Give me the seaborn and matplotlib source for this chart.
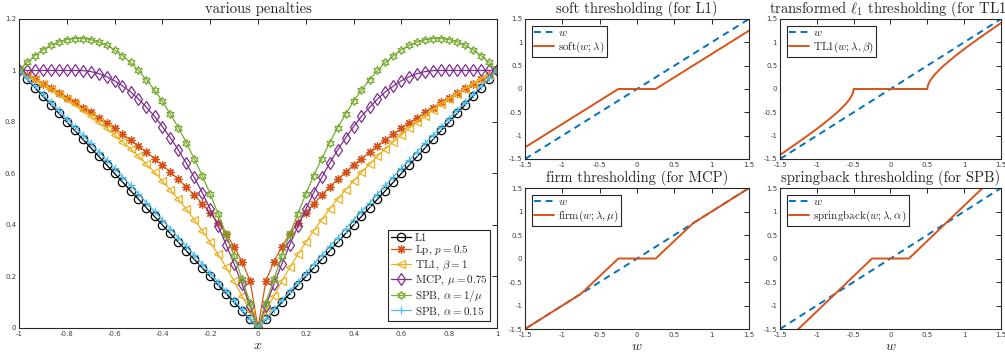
import seaborn as sns
import matplotlib.pyplot as plt

# penalty curves, x from -1 to 1
x_pen = [-1.0, -0.967, -0.933, -0.9, -0.867, -0.833, -0.8, -0.767, -0.733, -0.7, -0.667,
         -0.633, -0.6, -0.567, -0.533, -0.5, -0.467, -0.433, -0.4, -0.367, -0.333,
         -0.3, -0.267, -0.233, -0.2, -0.167, -0.133, -0.1, -0.067, -0.033, 0.0,
         0.033, 0.067, 0.1, 0.133, 0.167, 0.2, 0.233, 0.267, 0.3, 0.333,
         0.367, 0.4, 0.433, 0.467, 0.5, 0.533, 0.567, 0.6, 0.633, 0.667,
         0.7, 0.733, 0.767, 0.8, 0.833, 0.867, 0.9, 0.933, 0.967, 1.0]

l1_vals = [1.0, 0.967, 0.933, 0.9, 0.867, 0.833, 0.8, 0.767, 0.733, 0.7, 0.667,
           0.633, 0.6, 0.567, 0.533, 0.5, 0.467, 0.433, 0.4, 0.367, 0.333,
           0.3, 0.267, 0.233, 0.2, 0.167, 0.133, 0.1, 0.067, 0.033, 0.0,
           0.033, 0.067, 0.1, 0.133, 0.167, 0.2, 0.233, 0.267, 0.3, 0.333,
           0.367, 0.4, 0.433, 0.467, 0.5, 0.533, 0.567, 0.6, 0.633, 0.667,
           0.7, 0.733, 0.767, 0.8, 0.833, 0.867, 0.9, 0.933, 0.967, 1.0]

lp_vals = [1.0, 0.983, 0.966, 0.949, 0.931, 0.913, 0.894, 0.876, 0.856, 0.837, 0.816,
           0.796, 0.775, 0.753, 0.730, 0.707, 0.683, 0.658, 0.632, 0.606, 0.577,
           0.548, 0.516, 0.483, 0.447, 0.408, 0.365, 0.316, 0.258, 0.183, 0.0,
           0.183, 0.258, 0.316, 0.365, 0.408, 0.447, 0.483, 0.516, 0.548, 0.577,
           0.606, 0.632, 0.658, 0.683, 0.707, 0.730, 0.753, 0.775, 0.796, 0.816,
           0.837, 0.856, 0.876, 0.894, 0.913, 0.931, 0.949, 0.966, 0.983, 1.0]

tl1_vals = [1.0, 0.983, 0.966, 0.947, 0.929, 0.909, 0.889, 0.868, 0.846, 0.824, 0.8,
            0.776, 0.75, 0.723, 0.696, 0.667, 0.636, 0.605, 0.571, 0.537, 0.5,
            0.462, 0.421, 0.378, 0.333, 0.286, 0.235, 0.182, 0.125, 0.065, 0.0,
            0.065, 0.125, 0.182, 0.235, 0.286, 0.333, 0.378, 0.421, 0.462, 0.5,
            0.537, 0.571, 0.605, 0.636, 0.667, 0.696, 0.723, 0.75, 0.776, 0.8,
            0.824, 0.846, 0.868, 0.889, 0.909, 0.929, 0.947, 0.966, 0.983, 1.0]

mcp_vals = [1.0, 1.0, 1.0, 1.0, 1.0, 1.0, 1.0, 1.0, 0.9995, 0.996, 0.988,
            0.976, 0.96, 0.94, 0.917, 0.889, 0.857, 0.822, 0.782, 0.739, 0.691,
            0.64, 0.585, 0.525, 0.462, 0.395, 0.324, 0.249, 0.17, 0.087, 0.0,
            0.087, 0.17, 0.249, 0.324, 0.395, 0.462, 0.525, 0.585, 0.64, 0.691,
            0.739, 0.782, 0.822, 0.857, 0.889, 0.917, 0.94, 0.96, 0.976, 0.988,
            0.996, 0.9995, 1.0, 1.0, 1.0, 1.0, 1.0, 1.0, 1.0, 1.0]

spb_mu_vals = [1.0, 1.031, 1.058, 1.08, 1.098, 1.111, 1.12, 1.124, 1.124, 1.12, 1.111,
               1.098, 1.08, 1.058, 1.031, 1.0, 0.964, 0.924, 0.88, 0.831, 0.778,
               0.72, 0.658, 0.591, 0.52, 0.444, 0.364, 0.28, 0.191, 0.098, 0.0,
               0.098, 0.191, 0.28, 0.364, 0.444, 0.52, 0.591, 0.658, 0.72, 0.778,
               0.831, 0.88, 0.924, 0.964, 1.0, 1.031, 1.058, 1.08, 1.098, 1.111,
               1.12, 1.124, 1.124, 1.12, 1.111, 1.098, 1.08, 1.058, 1.031, 1.0]

spb_015_vals = [1.0, 0.969, 0.938, 0.907, 0.876, 0.845, 0.813, 0.781, 0.749, 0.717, 0.685,
                0.652, 0.620, 0.587, 0.554, 0.520, 0.487, 0.453, 0.420, 0.386, 0.351,
                0.317, 0.283, 0.248, 0.213, 0.178, 0.143, 0.107, 0.072, 0.036, 0.0,
                0.036, 0.072, 0.107, 0.143, 0.178, 0.213, 0.248, 0.283, 0.317, 0.351,
                0.386, 0.420, 0.453, 0.487, 0.520, 0.554, 0.587, 0.620, 0.652, 0.685,
                0.717, 0.749, 0.781, 0.813, 0.845, 0.876, 0.907, 0.938, 0.969, 1.0]

# thresholding operators
w_line = [-1.5, 1.5]
soft_w = [-1.5, -0.25, 0.25, 1.5]
soft_y = [-1.25, 0.0, 0.0, 1.25]
tl1_w = [-1.5, -1.2, -1.0, -0.9, -0.8, -0.7, -0.6, -0.55, -0.52, -0.51, -0.505, -0.5,
         0.5, 0.505, 0.51, 0.52, 0.55, 0.6, 0.7, 0.8, 0.9, 1.0, 1.2, 1.5]
tl1_y = [-1.414, -1.085, -0.855, -0.734, -0.606, -0.468, -0.308, -0.207, -0.124, -0.086, -0.06, 0.0,
         0.0, 0.06, 0.086, 0.124, 0.207, 0.308, 0.468, 0.606, 0.734, 0.855, 1.085, 1.414]
firm_w = [-1.5, -0.75, -0.25, 0.25, 0.75, 1.5]
firm_y = [-1.5, -0.75, 0.0, 0.0, 0.75, 1.5]
spb_w = [-1.5, -0.25, 0.25, 1.5]
spb_y = [-1.875, 0.0, 0.0, 1.875]

pen_ticks = [-1, -0.8, -0.6, -0.4, -0.2, 0, 0.2, 0.4, 0.6, 0.8, 1]
pen_ticklabels = ["-1", "-0.8", "-0.6", "-0.4", "-0.2", "0", "0.2", "0.4", "0.6", "0.8", "1"]
pen_yticks = [0, 0.2, 0.4, 0.6, 0.8, 1, 1.2]
pen_yticklabels = ["0", "0.2", "0.4", "0.6", "0.8", "1", "1.2"]
thr_ticks = [-1.5, -1, -0.5, 0, 0.5, 1, 1.5]
thr_ticklabels = ["-1.5", "-1", "-0.5", "0", "0.5", "1", "1.5"]

sns.set_style("white")
plt.rcParams['font.family'] = ['cmr10', 'DejaVu Serif']
plt.rcParams['mathtext.fontset'] = 'cm'
plt.rcParams['axes.unicode_minus'] = False
plt.rcParams['axes.formatter.use_mathtext'] = True

blue = "#0072BD"
orange = "#D95319"
yellow = "#EDB120"
purple = "#7E2F8E"
green = "#77AC30"
cyan = "#4DBEEE"


def style_axes(ax, ticks, labels, yticks, ylabels):
    ax.set_xticks(ticks)
    ax.set_xticklabels(labels, fontsize=5, family="DejaVu Sans", color="0.25")
    ax.set_yticks(yticks)
    ax.set_yticklabels(ylabels, fontsize=5, family="DejaVu Sans", color="0.25")
    ax.tick_params(direction="in", length=3.5, width=0.7, top=True, right=True,
                   pad=2, color="0.15")
    for s in ax.spines.values():
        s.set_visible(True)
        s.set_color("0.15")
        s.set_linewidth(0.8)


def legend(ax, loc, fs):
    leg = ax.legend(loc=loc, fontsize=fs, frameon=True, fancybox=False,
                    edgecolor="0.15", framealpha=1, borderpad=0.25,
                    handlelength=1.8, handletextpad=0.3, labelspacing=0.1,
                    borderaxespad=0.6)
    leg.get_frame().set_linewidth(0.8)


fig = plt.figure(figsize=(10.05, 3.56), dpi=100)

# left: various penalties
ax0 = fig.add_axes([0.0189, 0.0787, 0.4756, 0.868])
mk = dict(markersize=6, mfc="none", linewidth=0.9, markeredgewidth=0.9)
sns.lineplot(x=x_pen, y=l1_vals, ax=ax0, color="k", marker="o", mec="k",
             label="L1", **mk)
sns.lineplot(x=x_pen, y=lp_vals, ax=ax0, color=orange, marker=(8, 2, 0), mec=orange,
             label=r"Lp, $p=0.5$", **mk)
sns.lineplot(x=x_pen, y=tl1_vals, ax=ax0, color=yellow, marker="<", mec=yellow,
             label=r"TL1, $\beta=1$", **mk)
sns.lineplot(x=x_pen, y=mcp_vals, ax=ax0, color=purple, marker="d", mec=purple,
             label=r"MCP, $\mu=0.75$", **mk)
sns.lineplot(x=x_pen, y=spb_mu_vals, ax=ax0, color=green, marker=(6, 1, 0), mec=green,
             label=r"SPB, $\alpha=1/\mu$", **mk)
sns.lineplot(x=x_pen, y=spb_015_vals, ax=ax0, color=cyan, marker="+", mec=cyan,
             label=r"SPB, $\alpha=0.15$", **mk)
ax0.set_xlim(-1, 1)
ax0.set_ylim(0, 1.2)
style_axes(ax0, pen_ticks, pen_ticklabels, pen_yticks, pen_yticklabels)
ax0.set_title("various penalties", fontsize=10.5, pad=4)
ax0.set_xlabel("$x$", fontsize=10, labelpad=2)
legend(ax0, "lower right", 8)

# right: thresholding operators
panels = [
    ([0.5224, 0.5534, 0.2229, 0.3933], soft_w, soft_y, r"soft$(w;\lambda)$",
     "soft thresholding (for L1)", False),
    ([0.7761, 0.5534, 0.2199, 0.3933], tl1_w, tl1_y, r"TL1$(w;\lambda,\beta)$",
     r"transformed $\ell_1$ thresholding (for TL1)", False),
    ([0.5224, 0.0758, 0.2229, 0.396], firm_w, firm_y, r"firm$(w;\lambda,\mu)$",
     "firm thresholding (for MCP)", True),
    ([0.7761, 0.0758, 0.2199, 0.396], spb_w, spb_y, r"springback$(w;\lambda,\alpha)$",
     "springback thresholding (for SPB)", True),
]
for rect, xs, ys, lab, title, bottom in panels:
    ax = fig.add_axes(rect)
    sns.lineplot(x=w_line, y=w_line, ax=ax, color=blue, linewidth=1.4,
                 linestyle=(0, (3.5, 2.5)), label="$w$")
    sns.lineplot(x=xs, y=ys, ax=ax, color=orange, linewidth=1.4, label=lab, sort=False)
    ax.set_xlim(-1.5, 1.5)
    ax.set_ylim(-1.5, 1.5)
    style_axes(ax, thr_ticks, thr_ticklabels, thr_ticks, thr_ticklabels)
    ax.set_title(title, fontsize=10.5, pad=4)
    if bottom:
        ax.set_xlabel("$w$", fontsize=10, labelpad=2)
    legend(ax, "upper left", 8)

plt.savefig("out.png", dpi=100)
